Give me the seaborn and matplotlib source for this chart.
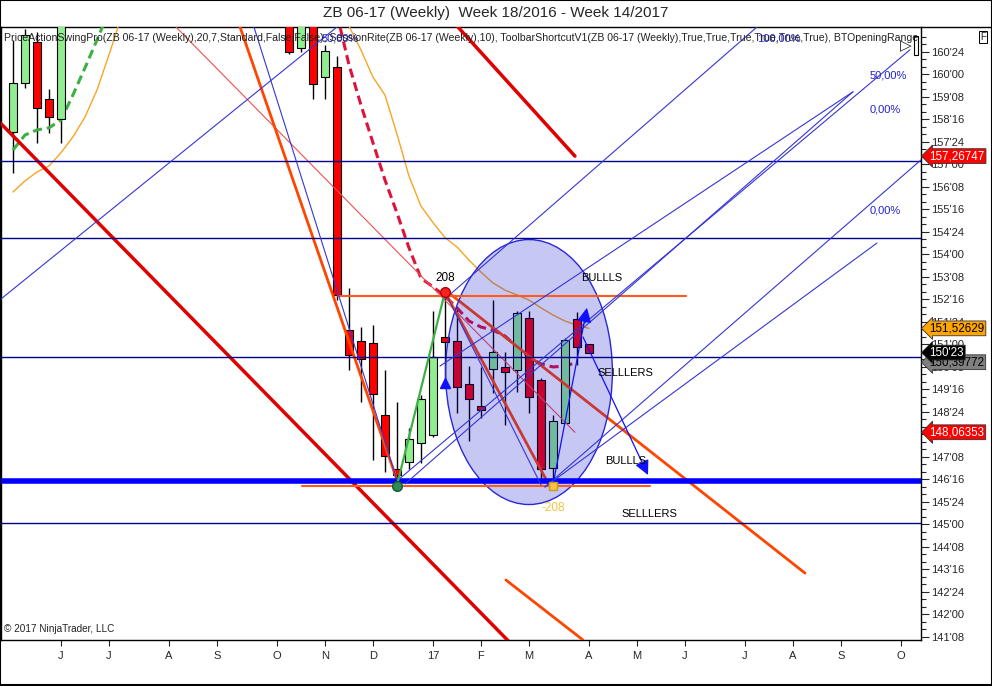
import numpy as np
import pandas as pd
import matplotlib
matplotlib.use("Agg")
import matplotlib.pyplot as plt
import matplotlib.transforms as mtransforms
from matplotlib.patches import Ellipse, Rectangle
from matplotlib.ticker import FuncFormatter, FixedLocator
import seaborn as sns

# weekly bars, week 18/2016 - week 14/2017 (prices in points, 1/32 ticks)
opens = [158.07, 159.71, 161.07, 159.17, 158.51, 162.3, 163.7, 165.9, 167.3, 170.1,
         169.3, 168.4, 168.9, 169.8, 168.0, 168.6, 167.4, 168.3, 165.5, 166.6,
         167.4, 165.4, 163.8, 162.5, 160.87, 162.0, 159.91, 160.24, 151.47, 151.11,
         151.04, 148.64, 146.84, 147.07, 147.71, 147.97, 151.24, 151.11, 149.67, 148.94,
         150.17, 150.24, 150.14, 151.87, 149.81, 146.87, 148.37, 151.84, 151.01]
highs = [161.14, 161.5, 161.4, 159.5, 162.6, 164.0, 166.2, 168.0, 170.5, 172.0,
         170.2, 169.6, 170.4, 170.1, 169.0, 169.3, 168.8, 169.0, 167.2, 167.9,
         167.7, 165.9, 164.2, 162.9, 162.3, 162.4, 160.97, 160.61, 152.87, 151.57,
         151.64, 150.14, 149.07, 148.21, 149.31, 152.11, 152.74, 152.2, 150.27, 150.24,
         152.47, 150.74, 152.11, 152.11, 149.87, 148.64, 151.21, 152.07, 151.01]
lows = [156.71, 159.54, 157.71, 158.04, 157.71, 161.9, 163.2, 165.0, 166.8, 168.9,
        167.5, 167.2, 168.1, 167.6, 167.1, 166.9, 166.7, 164.9, 164.8, 165.7,
        165.0, 163.4, 162.1, 160.67, 160.74, 159.17, 159.17, 152.47, 150.14, 149.07,
        147.14, 146.74, 146.34, 146.84, 147.04, 147.91, 149.71, 148.71, 147.77, 148.54,
        149.37, 148.31, 149.41, 148.71, 146.47, 146.24, 148.37, 150.31, 150.72]
closes = [159.71, 161.31, 158.87, 158.57, 162.3, 163.7, 165.9, 167.3, 170.1, 169.3,
          168.4, 168.9, 169.8, 168.0, 168.6, 167.4, 168.3, 165.5, 166.6, 167.4,
          165.4, 163.8, 162.5, 160.74, 162.0, 159.67, 160.77, 152.64, 150.64, 150.51,
          149.34, 147.27, 146.64, 147.84, 149.17, 150.57, 151.07, 149.57, 149.17, 148.81,
          150.74, 150.07, 152.04, 149.24, 146.84, 148.44, 151.14, 150.91, 150.72]

# indicator lines (bar index start + values)
green_ma_start = 0
green_ma = [157.47, 157.97, 158.14, 158.21, 158.47, 159.31, 160.21, 161.14, 162.1]
orange_left_start = 0
orange_left = [156.07, 156.44, 156.74, 156.94, 157.38, 157.91, 158.57, 159.47, 160.64, 161.87]
orange_right_start = 28
orange_right = [161.6, 160.8, 159.9, 159.3, 158.0, 156.6, 155.6, 155.05, 154.55, 154.24,
                153.8, 153.4, 153.04, 152.8, 152.64, 152.47, 152.21, 151.97, 151.77, 151.63,
                151.526]
red_ma_start = 27
red_ma = [162.0, 160.31, 158.97, 157.71, 156.47, 155.37, 154.21, 153.2, 152.91, 152.6,
          152.21, 151.77, 151.57, 151.47, 151.27, 150.91, 150.57, 150.34, 150.24, 150.27,
          150.398]

# drawing objects: (bar index, price) anchors
hlines_thin = [157.12, 154.53, 150.56, 145.03]
hline_thick = 146.44
orange_hlines = [(27.1, 56.1, 152.60), (24.1, 53.1, 146.28)]
red_thick = [((-1.1, 158.39), (41.3, 141.1)), ((37.08, 161.57), (46.83, 157.267))]
red_thin = [((13.58, 161.57), (46.83, 148.064))]
orange_thick = [((18.92, 161.57), (32.0, 146.47)), ((36.0, 152.81), (66.0, 143.37)),
                ((41.08, 143.14), (47.5, 141.14)), ((36.0, 152.74), (44.67, 146.31))]
blue_lines = [((-1.08, 152.48), (27.0, 161.57)), ((20.08, 161.57), (32.0, 146.47)),
              ((36.0, 152.51), (62.0, 161.57)), ((32.08, 146.47), (74.75, 160.81)),
              ((32.67, 146.34), (70.0, 159.41)), ((35.58, 150.27), (70.0, 159.41)),
              ((44.33, 146.24), (75.67, 157.14)), ((44.33, 146.24), (72.0, 154.37)),
              ((36.0, 152.74), (44.0, 146.31))]
blue_arrows = [((45.0, 146.31), (47.83, 152.21)), ((47.5, 151.24), (52.92, 146.64))]
swing_line = ((32.0, 146.3), (36.0, 152.74))
swing_high = (36.0, 152.74)
swing_low = (32.0, 146.26)
swing_low2 = (45.0, 146.26)
ellipse_center = (43.0, 150.07)
ellipse_size = (13.9, 8.83)

texts = [("208", 36.0, 153.0, "black"), ("-208", 45.0, 145.55, "#f2c440"),
         ("BULLLS", 47.33, 153.2, "black"), ("SELLLERS", 48.75, 150.04, "black"),
         ("BULLLS", 49.33, 147.1, "black"), ("SELLLERS", 50.75, 145.34, "black")]
fib_texts = [("50,00%", 71.42, 159.97), ("0,00%", 71.42, 158.81), ("0,00%", 71.42, 155.47),
             ("100,00%", 62.0, 161.2), ("50,00%", 25.75, 161.2)]

price_labels = [157.26747, 151.52629, 150.39772, 150.71875, 148.06353]
price_texts = ["157,26747", "151,52629", "150,39772", "150'23", "148,06353"]
price_bg = ["#ff0000", "#ffa500", "#808080", "#000000", "#ff0000"]
price_fg = ["white", "black", "black", "white", "white"]

n_future = 76
dates = pd.date_range("2016-05-06", periods=n_future, freq="W-FRI")

sns.set_style("white")
plt.rcParams['font.family'] = ['Liberation Sans', 'DejaVu Sans']

fig = plt.figure(figsize=(9.92, 6.86), dpi=100)
ax = fig.add_axes([1 / 992, 46 / 686, 920 / 992, 613 / 686])

x = np.arange(len(opens))
o = np.array(opens)
c = np.array(closes)
up = c >= o
body_colors = np.where(up, "#90ee90", "#ff0000")
ax.vlines(x, lows, highs, color="black", lw=1, zorder=3)
ax.bar(x, np.maximum(np.abs(c - o), 0.04), bottom=np.minimum(o, c), width=0.72,
       color=body_colors, edgecolor="black", linewidth=0.8, zorder=4)

# moving averages
ma = pd.DataFrame({"x": np.arange(len(orange_left)) + orange_left_start, "y": orange_left})
sns.lineplot(data=ma, x="x", y="y", ax=ax, color="#f5a623", lw=1, zorder=3.5)
ma = pd.DataFrame({"x": np.arange(len(orange_right)) + orange_right_start, "y": orange_right})
sns.lineplot(data=ma, x="x", y="y", ax=ax, color="#f5a623", lw=1, zorder=3.5)
ma = pd.DataFrame({"x": np.arange(len(green_ma)) + green_ma_start, "y": green_ma})
sns.lineplot(data=ma, x="x", y="y", ax=ax, color="#3cb043", lw=2.2, linestyle=(0, (3, 1.6)), zorder=3.5)
ma = pd.DataFrame({"x": np.arange(len(red_ma)) + red_ma_start, "y": red_ma})
sns.lineplot(data=ma, x="x", y="y", ax=ax, color="#dc143c", lw=2.2, linestyle=(0, (3, 1.6)), zorder=3.5)

for a, b in red_thin:
    ax.plot([a[0], b[0]], [a[1], b[1]], color="#f05050", lw=0.8, zorder=4.2)
for a, b in orange_thick:
    ax.plot([a[0], b[0]], [a[1], b[1]], color="#ff4500", lw=2, zorder=4.2)

ax.add_patch(Ellipse(ellipse_center, ellipse_size[0], ellipse_size[1],
                     facecolor=(0.08, 0.08, 0.83, 0.235), edgecolor="#2828d8", lw=1, zorder=4.5))

for a, b in red_thick:
    ax.plot([a[0], b[0]], [a[1], b[1]], color="#e00000", lw=2.5, zorder=5)
for yv in hlines_thin:
    ax.axhline(yv, color="#00008b", lw=1, zorder=5)
ax.axhline(hline_thick, color="#0000ff", lw=4, zorder=5)
for x0, x1, yv in orange_hlines:
    ax.plot([x0, x1], [yv, yv], color="#ff5a1e", lw=1.5, zorder=5)
for a, b in blue_lines:
    ax.plot([a[0], b[0]], [a[1], b[1]], color="#3535d5", lw=0.8, zorder=5)
for a, b in blue_arrows:
    ax.annotate("", xy=b, xytext=a,
                arrowprops=dict(arrowstyle="-|>", color="#1010ff", lw=0.9, mutation_scale=22,
                                shrinkA=0, shrinkB=0), zorder=6)
ax.plot([swing_line[0][0], swing_line[1][0]], [swing_line[0][1], swing_line[1][1]],
        color="#3cb043", lw=1.6, zorder=6)

ax.plot(*swing_high, marker="o", ms=7, color="#ff2020", mec="#b00000", zorder=7)
ax.plot(*swing_low, marker="o", ms=7, color="#2e8b57", mec="#145a32", zorder=7)
ax.plot(*swing_low2, marker="s", ms=6, color="#f2c440", mec="#c89a20", zorder=7)
ax.plot(36.0, 149.72, marker="^", ms=7, color="#1010ff", zorder=7)

for t, tx, ty, col in texts:
    ha = "center" if t in ("208", "-208") else "left"
    ax.text(tx, ty, t, color=col, fontsize=8.5 if ha == "center" else 8, ha=ha,
            va="bottom" if t == "208" else "center", zorder=8)
for t, tx, ty in fib_texts:
    ax.text(tx, ty, t, color="#2222cc", fontsize=8, ha="left", va="center", zorder=8)

indicator = ("PriceActionSwingPro(ZB 06-17 (Weekly),20,7,Standard,False,False), "
             "SessionRite(ZB 06-17 (Weekly),10), ToolbarShortcutV1(ZB 06-17 (Weekly),"
             "True,True,True,True,True,True), BTOpeningRange")
ax.text(0.003, 0.982, indicator, transform=ax.transAxes, fontsize=7.6, ha="left", va="center",
        color="#222222", zorder=8, clip_on=True)
ax.text(0.003, 0.01, "© 2017 NinjaTrader, LLC", transform=ax.transAxes, fontsize=7.2,
        ha="left", va="bottom", color="#222222", zorder=8)

ax.set_xlim(-1.0, 75.67)
ax.set_ylim(141.14, 161.57)

# month ticks from the weekly dates
tick_pos = []
tick_lab = []
for i in range(1, n_future):
    if dates[i].month != dates[i - 1].month:
        tick_pos.append(i)
        if dates[i].month == 1:
            tick_lab.append(dates[i].strftime("%y"))
        else:
            tick_lab.append(dates[i].strftime("%b")[0])
ax.set_xticks(tick_pos)
ax.set_xticklabels(tick_lab, fontsize=8)
ax.tick_params(axis="x", direction="out", length=4, width=0.8, pad=4, bottom=True)

ax.yaxis.tick_right()
ax.yaxis.set_major_locator(FixedLocator(np.arange(141.25, 161.0, 0.75)))
ax.yaxis.set_minor_locator(FixedLocator(np.arange(141.25, 161.5, 0.25)))


def fmt32(v, pos):
    whole = int(np.floor(v + 1e-6))
    frac = int(round((v - whole) * 32))
    return f"{whole}'{frac:02d}"


ax.yaxis.set_major_formatter(FuncFormatter(fmt32))
ax.tick_params(axis="y", which="major", direction="out", length=6, width=0.8, labelsize=8, pad=1.5)
ax.tick_params(axis="y", which="minor", direction="out", length=3.5, width=0.8)
ax.set_xlabel("")
ax.set_ylabel("")
for s in ax.spines.values():
    s.set_color("black")
    s.set_linewidth(1)

trans = mtransforms.blended_transform_factory(ax.transAxes, ax.transData)
for val, t, bg, fg in zip(price_labels, price_texts, price_bg, price_fg):
    ax.text(1.009, val, t, transform=trans, fontsize=8.4, color=fg, ha="left", va="center",
            bbox=dict(boxstyle="larrow,pad=0.12", fc=bg, ec="#333333", lw=0.6),
            clip_on=False, zorder=9)

fig.text(0.5, 1 - 13 / 686, "ZB 06-17 (Weekly)  Week 18/2016 - Week 14/2017",
         ha="center", va="center", fontsize=11)
fig.add_artist(plt.Line2D([921 / 992, 1], [1 - 27 / 686, 1 - 27 / 686], color="black", lw=1,
                          transform=fig.transFigure))
fig.text(983 / 992, 1 - 37 / 686, "F", fontsize=7, ha="center", va="center",
         bbox=dict(boxstyle="square,pad=0.15", fc="white", ec="black", lw=0.7))
fig.text(906 / 992, 1 - 46 / 686, "▷", fontsize=11, ha="center", va="center",
         family="DejaVu Sans")
fig.add_artist(Rectangle((914 / 992, 1 - 55 / 686), 4 / 992, 19 / 686, fill=False, ec="black",
                         lw=0.8, transform=fig.transFigure))
fig.add_artist(Rectangle((0.0005, 0.0008), 0.999, 0.9985, fill=False, ec="black", lw=1.5,
                         transform=fig.transFigure))

fig.savefig("out.png", dpi=100)
